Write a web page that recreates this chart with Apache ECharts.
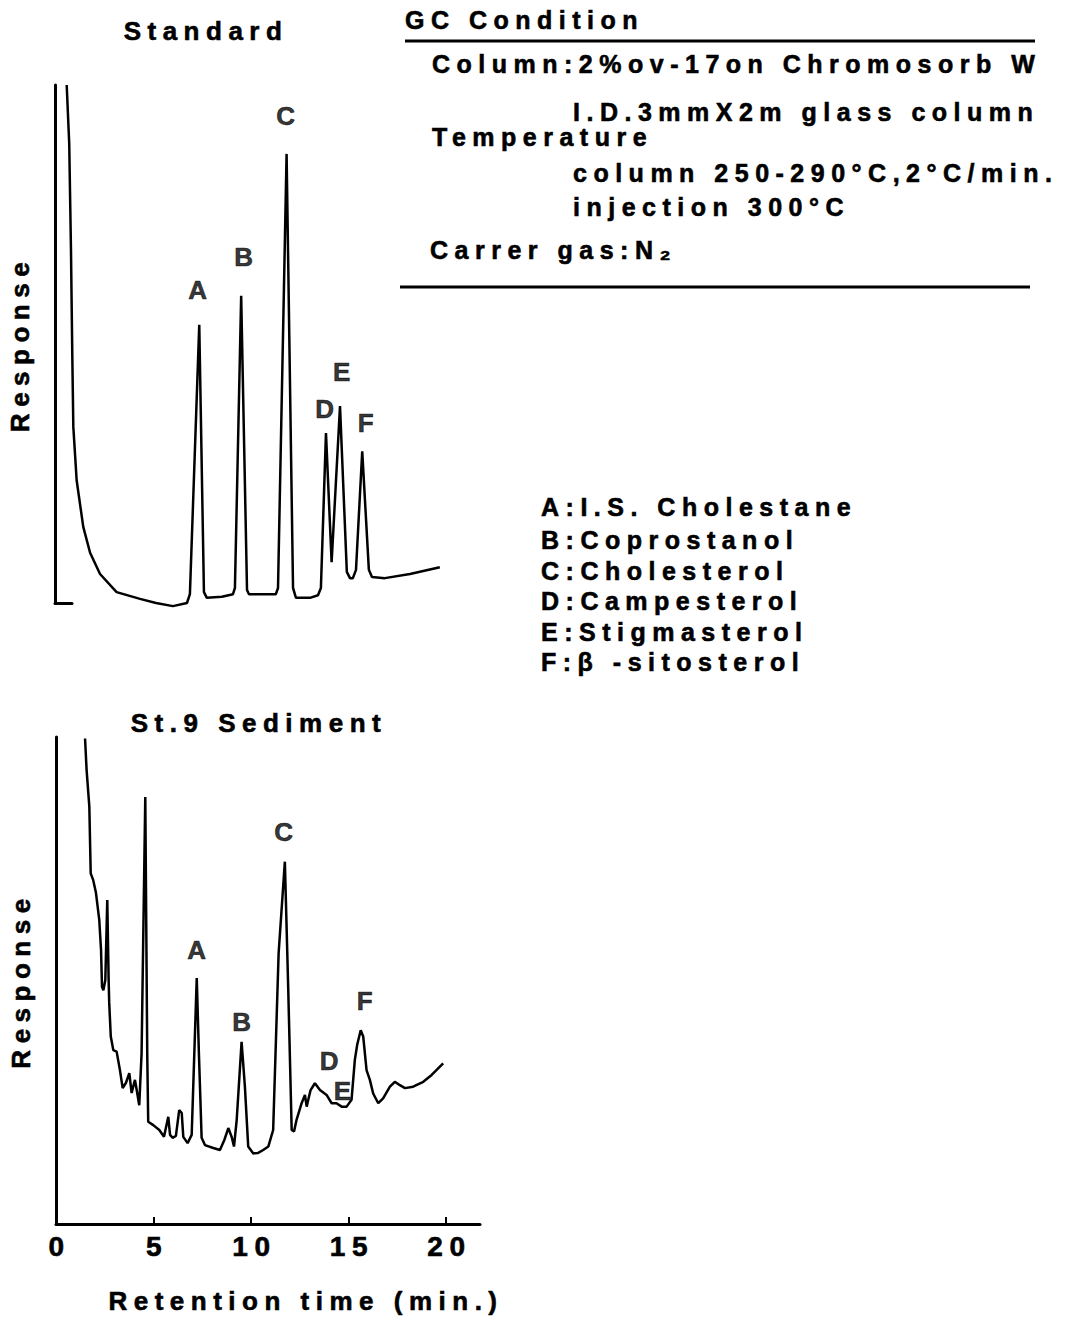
<!DOCTYPE html>
<html>
<head>
<meta charset="utf-8">
<script src="https://cdn.jsdelivr.net/npm/echarts@6.0.0/dist/echarts.min.js"></script>
<style>
html,body{margin:0;padding:0;background:#fff;}
#chart{width:1077px;height:1317px;}
#chart text{letter-spacing:6.5px;}
</style>
</head>
<body>
<div id="chart"></div>
<script>
// ---------------- data ----------------
const xTicks = [0, 5, 10, 15, 20];
const peakNames = ['A', 'B', 'C', 'D', 'E', 'F'];

// Standard chromatogram (retention time in min, relative response)
const stdTime = [0.60,0.73,0.82,0.89,0.94,1.11,1.45,1.80,2.31,3.16,4.36,5.18,6.05,6.77,6.92,7.40,7.64,7.79,8.56,9.13,9.23,9.55,9.85,9.95,11.33,11.44,11.88,12.21,12.36,13.08,13.49,13.64,13.90,14.19,14.62,14.97,15.13,15.28,15.44,15.76,16.10,16.26,16.92,18.21,19.74];
const stdResp = [100,88.6,68.0,47.1,34.0,23.7,14.7,9.7,5.6,2.1,0.8,0,-0.6,0,1.7,53.7,2.1,1.0,1.2,1.7,2.9,59.3,2.5,1.7,1.7,2.9,86.7,2.9,1.0,1.0,1.5,2.9,32.8,7.9,38.0,6.0,4.8,4.8,6.4,29.3,6.4,5.0,4.8,5.6,6.9];

// St.9 Sediment chromatogram
const sedTime = [1.49,1.57,1.71,1.78,1.91,2.05,2.22,2.31,2.36,2.43,2.53,2.63,2.70,2.73,2.81,2.94,3.11,3.28,3.42,3.59,3.76,3.88,4.05,4.14,4.27,4.39,4.58,4.68,4.73,4.99,5.30,5.54,5.76,5.85,5.98,6.15,6.32,6.45,6.53,6.75,6.96,7.22,7.33,7.47,7.64,8.07,8.41,8.63,8.84,9.01,9.13,9.27,9.52,9.69,9.86,10.12,10.37,10.63,10.89,11.14,11.42,11.74,11.91,12.09,12.21,12.34,12.60,12.77,12.86,12.94,13.06,13.28,13.54,13.88,14.14,14.39,14.65,14.91,15.16,15.33,15.45,15.63,15.76,15.93,16.10,16.27,16.53,16.78,17.13,17.38,17.64,17.90,18.32,18.84,19.27,19.86];
const sedResp = [99.7,93.2,85.7,72.0,70.6,68.0,62.4,56.3,48.7,48.0,50.1,66.5,50.1,45.4,38.5,35.7,35.4,31.6,27.9,29.0,31.0,26.9,29.6,27.5,24.4,35.0,87.7,35.1,21.0,20.3,19.3,17.9,22.0,18.3,17.7,18.1,23.4,22.8,17.9,16.6,18.3,50.5,35.1,17.7,16.2,15.6,15.2,17.2,19.7,17.9,15.9,21.4,37.4,28.2,15.9,14.5,14.6,15.2,15.9,19.3,55.6,74.4,48.7,19.3,19.0,21.4,24.8,26.5,24.1,25.5,27.5,28.9,27.5,26.5,24.8,24.8,24.1,24.1,25.5,33.7,36.8,39.8,38.5,31.6,29.6,26.8,24.8,25.8,28.2,29.2,28.5,27.9,28.2,29.2,30.6,33.0];

// peak letter positions (time, response)
const stdLabelTime = [7.33, 9.69, 11.85, 13.85, 14.72, 15.95];
const stdLabelResp = [60.4, 66.8, 94.0, 37.5, 44.6, 34.7];
const sedLabelTime = [7.23, 9.54, 11.69, 14.02, 14.70, 15.85];
const sedLabelResp = [56.3, 41.5, 80.5, 33.4, 27.3, 45.8];

const panelTitles = ['Standard', 'St.9 Sediment'];
const xAxisTitle = 'Retention time (min.)';
const yAxisTitle = 'Response';
const gcTitle = 'GC Condition';
const gcLines = [
  'Column:2%ov-17on Chromosorb W',
  'I.D.3mmX2m glass column',
  'Temperature',
  'column 250-290°C,2°C/min.',
  'injection 300°C',
  'Carrer gas:N₂'
];
const legendLines = [
  'A:I.S. Cholestane',
  'B:Coprostanol',
  'C:Cholesterol',
  'D:Campesterol',
  'E:Stigmasterol',
  'F:β -sitosterol'
];

// ---------------- chart ----------------
const FONT = "'Liberation Sans', Arial, Helvetica, 'DejaVu Sans', sans-serif";
const zip = (a, b) => a.map((v, i) => [v, b[i]]);
const labelData = (t, r) => t.map((v, i) => [v, r[i], peakNames[i]]);

function txt(x, y, text, size, align) {
  return {
    type: 'text', x: x, y: y, silent: true,
    style: {
      text: text, fill: '#000', fontSize: size, fontWeight: 'bold', fontFamily: FONT,
      stroke: '#000', lineWidth: 0.6,
      align: align, textAlign: align, verticalAlign: 'middle', textVerticalAlign: 'middle'
    }
  };
}
function hline(x1, x2, y) {
  return { type: 'line', silent: true, shape: { x1: x1, y1: y, x2: x2, y2: y },
           style: { stroke: '#000', lineWidth: 3 } };
}

const axisLineStyle = { color: '#000', width: 3 };
const nameStyle = { fontSize: 26, fontWeight: 'bold', fontFamily: FONT, color: '#000',
                    textBorderColor: '#000', textBorderWidth: 0.6 };

const gcX = [432, 573, 432, 573, 573, 430];
const gcY = [64, 112, 137, 173, 207, 250];
const legY = [507, 540, 571, 601, 632, 662];

const graphics = [
  txt(206, 31, panelTitles[0], 26, 'center'),
  txt(259, 723, panelTitles[1], 26, 'center'),
  txt(306, 1301, xAxisTitle, 26, 'center'),
  txt(405, 20, gcTitle, 25, 'left'),
  hline(405, 1035, 41),
  hline(400, 1030, 287)
];
gcLines.forEach((s, i) => graphics.push(txt(gcX[i], gcY[i], s, 25, 'left')));
legendLines.forEach((s, i) => graphics.push(txt(541, legY[i], s, 25, 'left')));

const peakLabel = {
  show: true, position: 'inside', formatter: p => p.data[2], offset: [3, 0],
  fontSize: 26, fontWeight: 'bold', fontFamily: FONT, color: '#000',
  textBorderColor: '#000', textBorderWidth: 0.6
};

const option = {
  animation: false,
  backgroundColor: '#fff',
  grid: [
    { left: 55, top: 85, width: 424, height: 518, outerBoundsMode: 'none' },
    { left: 56, top: 737, width: 424, height: 487, outerBoundsMode: 'none' },
    { left: 55, top: 85, width: 17, height: 518, outerBoundsMode: 'none' }
  ],
  xAxis: [
    { gridIndex: 0, type: 'value', min: 0, max: 21.75, show: false },
    { gridIndex: 1, type: 'value', min: 0, max: 21.75,
      axisLine: { show: true, onZero: false, lineStyle: axisLineStyle },
      axisTick: { show: true, inside: true, length: 7, customValues: xTicks, lineStyle: { color: '#000', width: 2 } },
      axisLabel: { show: true, customValues: xTicks, margin: 8, padding: [0, 0, 0, 7],
                   fontSize: 28, fontWeight: 'bold', fontFamily: FONT, color: '#000',
                   textBorderColor: '#000', textBorderWidth: 0.6 },
      splitLine: { show: false } },
    { gridIndex: 2, type: 'value', min: 0, max: 1,
      axisLine: { show: true, onZero: false, lineStyle: axisLineStyle },
      axisTick: { show: false }, axisLabel: { show: false }, splitLine: { show: false } }
  ],
  yAxis: [
    { gridIndex: 0, type: 'value', min: 0, max: 100,
      axisLine: { show: true, onZero: false, lineStyle: axisLineStyle },
      axisTick: { show: false }, axisLabel: { show: false }, splitLine: { show: false },
      name: yAxisTitle, nameLocation: 'middle', nameRotate: 90, nameGap: 22, nameTextStyle: nameStyle },
    { gridIndex: 1, type: 'value', min: 0, max: 100,
      axisLine: { show: true, onZero: false, lineStyle: axisLineStyle },
      axisTick: { show: false }, axisLabel: { show: false }, splitLine: { show: false },
      name: yAxisTitle, nameLocation: 'middle', nameRotate: 90, nameGap: 22, nameTextStyle: nameStyle },
    { gridIndex: 2, type: 'value', min: 0, max: 100, show: false }
  ],
  series: [
    { type: 'line', xAxisIndex: 0, yAxisIndex: 0, data: zip(stdTime, stdResp),
      showSymbol: false, symbol: 'none', clip: false, silent: true,
      lineStyle: { color: '#000', width: 2.5 } },
    { type: 'line', xAxisIndex: 1, yAxisIndex: 1, data: zip(sedTime, sedResp),
      showSymbol: false, symbol: 'none', clip: false, silent: true,
      lineStyle: { color: '#000', width: 2.5 } },
    { type: 'scatter', xAxisIndex: 0, yAxisIndex: 0, data: labelData(stdLabelTime, stdLabelResp),
      symbolSize: 1, itemStyle: { color: 'transparent' }, silent: true, label: peakLabel },
    { type: 'scatter', xAxisIndex: 1, yAxisIndex: 1, data: labelData(sedLabelTime, sedLabelResp),
      symbolSize: 1, itemStyle: { color: 'transparent' }, silent: true, label: peakLabel }
  ],
  graphic: graphics
};

const chart = echarts.init(document.getElementById('chart'), null, { renderer: 'svg' });
chart.setOption(option);
</script>
</body>
</html>
